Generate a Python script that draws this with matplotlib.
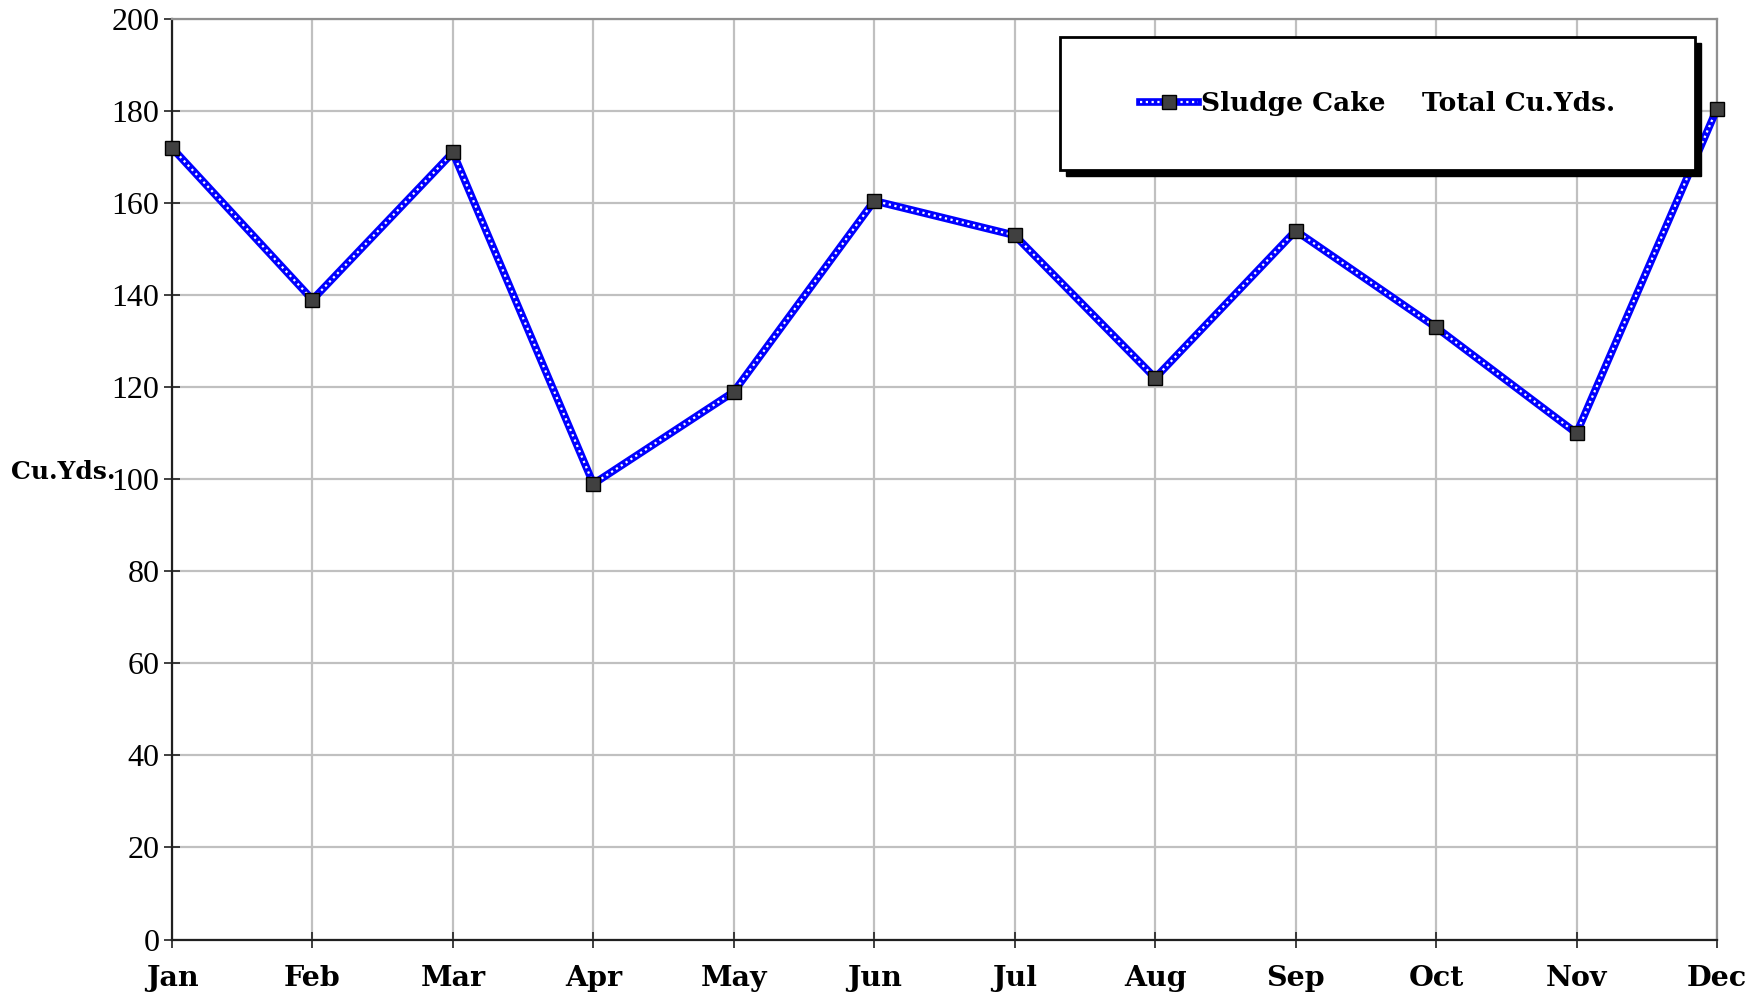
import matplotlib.pyplot as plt
from matplotlib.lines import Line2D
from matplotlib.patches import Rectangle

# Monthly sludge cake volumes
months = ['Jan', 'Feb', 'Mar', 'Apr', 'May', 'Jun',
          'Jul', 'Aug', 'Sep', 'Oct', 'Nov', 'Dec']
cu_yds = [172, 139, 171, 99, 119, 160.5, 153, 122, 154, 133, 110, 180.5]
y_ticks = [0, 20, 40, 60, 80, 100, 120, 140, 160, 180, 200]
series_label = 'Sludge Cake    Total Cu.Yds.'

W, H = 1760, 996
fig = plt.figure(figsize=(W / 100, H / 100), dpi=100)
ax = fig.add_axes([172 / W, 1 - 939.5 / H, (1717 - 172) / W, (939.5 - 19) / H])

x = list(range(len(months)))

# Thick blue line with a white dotted core, then grey square markers
ax.plot(x, cu_yds, color='#0000ff', lw=5.5, solid_capstyle='round', zorder=3, clip_on=False)
ax.plot(x, cu_yds, color='white', lw=1.6, ls=(0, (1, 1.6)), zorder=4, clip_on=False)
ax.plot(x, cu_yds, ls='none', marker='s', ms=9.5, mfc='#404040', mec='black', mew=1,
        zorder=5, clip_on=False)

ax.set_xlim(0, len(months) - 1)
ax.set_ylim(0, 200)
ax.set_xticks(x)
ax.set_xticklabels(months, fontfamily='DejaVu Serif', fontweight='bold', fontsize=20.5)
ax.set_yticks(y_ticks)
ax.set_yticklabels([str(v) for v in y_ticks], fontfamily='Liberation Serif', fontsize=23)
ax.tick_params(axis='both', direction='inout', length=12, width=1.2, color='#202020')
ax.tick_params(axis='x', pad=12)
ax.tick_params(axis='y', pad=3)

ax.grid(True, color='#c0c0c0', lw=1.6)
ax.set_axisbelow(True)
for side in ['left', 'bottom']:
    ax.spines[side].set_color('#202020')
    ax.spines[side].set_linewidth(1.6)
for side in ['top', 'right']:
    ax.spines[side].set_color('#909090')
    ax.spines[side].set_linewidth(1.6)

fig.text(11 / W, 1 - 472 / H, 'Cu.Yds.', fontfamily='DejaVu Serif', fontweight='bold',
         fontsize=18, ha='left', va='center')

# Legend box with a hard black shadow
bx0, by0, bx1, by1 = 1060, 37, 1695, 170
fig.patches.append(Rectangle(((bx0 + 6) / W, 1 - (by1 + 6) / H), (bx1 - bx0) / W, (by1 - by0) / H,
                             transform=fig.transFigure, facecolor='black', edgecolor='black',
                             zorder=10))
fig.patches.append(Rectangle((bx0 / W, 1 - by1 / H), (bx1 - bx0) / W, (by1 - by0) / H,
                             transform=fig.transFigure, facecolor='white', edgecolor='black',
                             lw=2, zorder=11))

h_blue = Line2D([], [], color='#0000ff', lw=5.5)
h_dot = Line2D([], [], color='white', lw=1.6, ls=(0, (1, 1.6)))
h_mark = Line2D([], [], ls='none', marker='s', ms=9.5, mfc='#404040', mec='black', mew=1)
leg = fig.legend([(h_blue, h_dot, h_mark)], [series_label], loc='center',
                 bbox_to_anchor=((bx0 + bx1) / 2 / W, 1 - (by0 + by1) / 2 / H),
                 frameon=False, handlelength=2.2, handletextpad=0.1,
                 prop={'family': 'DejaVu Serif', 'weight': 'bold', 'size': 19})
leg.set_zorder(12)

fig.savefig('out.png', dpi=100)
